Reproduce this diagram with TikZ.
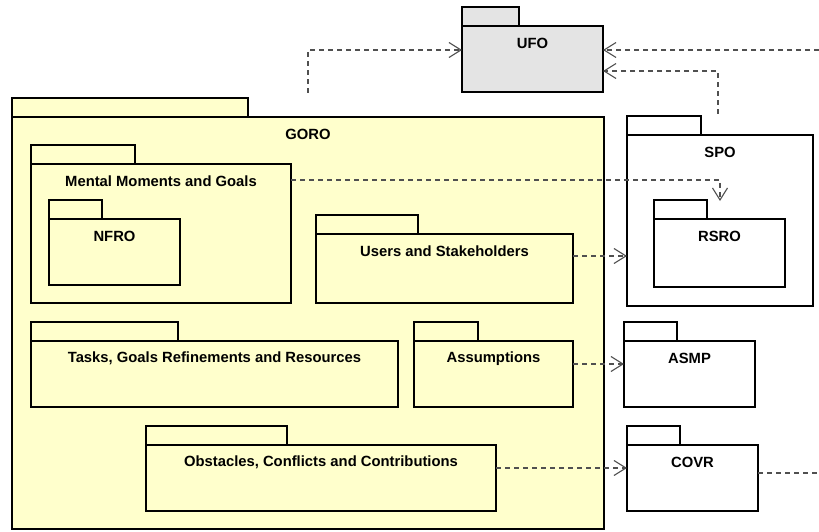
\documentclass[tikz,border=0pt]{standalone}
\usepackage{fontspec}
\setmainfont{Liberation Sans}
\usetikzlibrary{arrows.meta,calc}

\definecolor{pkgyellow}{HTML}{FFFFCC}
\definecolor{pkggray}{HTML}{E4E4E4}
\definecolor{depgray}{HTML}{505050}

\tikzset{
  x=1pt, y=-1pt,
  pkgbody/.style={draw=black, line width=2.8pt, rectangle, inner sep=0pt, outer sep=0pt, anchor=north west},
  pkgtab/.style={draw=black, line width=2.8pt},
  pkglabel/.style={font=\bfseries\fontsize{14.8}{16}\selectfont, inner sep=0pt},
  dep/.style={draw=depgray, line width=1.1pt, dash pattern=on 5pt off 4pt,
    -{Straight Barb[length=12pt, width=15pt, line width=1.1pt]}},
  depplain/.style={draw=depgray, line width=1.1pt, dash pattern=on 5pt off 4pt},
}

% \pkg{fill}{name}{x1}{y1}{x2}{y2}{tab width}{label}
\newcommand{\pkg}[8]{%
  \draw[pkgtab, fill=#1] (#3,#4) rectangle ++(#7,-19);
  \node[pkgbody, fill=#1, minimum width=#5pt-#3pt, minimum height=#6pt-#4pt] (#2) at (#3,#4) {};
  \node[pkglabel] (#2-label) at ([yshift=-17.5pt]#2.north) {#8};
}

\begin{document}
\begin{tikzpicture}
\useasboundingbox (0,0) rectangle (819,532);

% core ontology
\pkg{pkggray}{UFO}{462}{26}{603}{92}{57}{UFO}

% goal-oriented requirements ontology and its parts
\pkg{pkgyellow}{GORO}{12}{117}{604}{529}{236}{GORO}
\pkg{pkgyellow}{MMG}{31}{164}{291}{303}{104}{Mental Moments and Goals}
\pkg{pkgyellow}{NFRO}{49}{219}{180}{285}{53}{NFRO}
\pkg{pkgyellow}{USH}{316}{234}{573}{303}{102}{Users and Stakeholders}
\pkg{pkgyellow}{TGR}{31}{341}{398}{407}{147}{Tasks, Goals Refinements and Resources}
\pkg{pkgyellow}{ASM}{414}{341}{573}{407}{64}{Assumptions}
\pkg{pkgyellow}{OCC}{146}{445}{496}{511}{141}{Obstacles, Conflicts and Contributions}

% related ontologies
\pkg{white}{SPO}{627}{135}{813}{306}{74}{SPO}
\pkg{white}{RSRO}{654}{219}{785}{287}{53}{RSRO}
\pkg{white}{ASMP}{624}{341}{755}{407}{53}{ASMP}
\pkg{white}{COVR}{627}{445}{758}{511}{53}{COVR}

% free ends of the dependencies
\coordinate (gorotop) at (308,93);
\coordinate (spotop) at (718,114);
\coordinate (rsrotop) at (720,201);
\coordinate (edgeA) at (819,50);
\coordinate (edgeB) at (819,473);

% dependencies
\draw[dep] (gorotop) |- (UFO.west |- 0,50);
\draw[dep] (edgeA) -- (UFO.east |- edgeA);
\draw[dep] (spotop) |- (UFO.east |- 0,71);
\draw[dep] (MMG.east |- 0,180) -| (rsrotop);
\draw[dep] (USH.east |- 0,256) -- (SPO.west |- 0,256);
\draw[dep] (ASM.east |- 0,364) -- (ASMP.west |- 0,364);
\draw[dep] (OCC.east |- 0,468) -- (COVR.west |- 0,468);
\draw[depplain] (COVR.east |- edgeB) -- (edgeB);
\end{tikzpicture}
\end{document}
